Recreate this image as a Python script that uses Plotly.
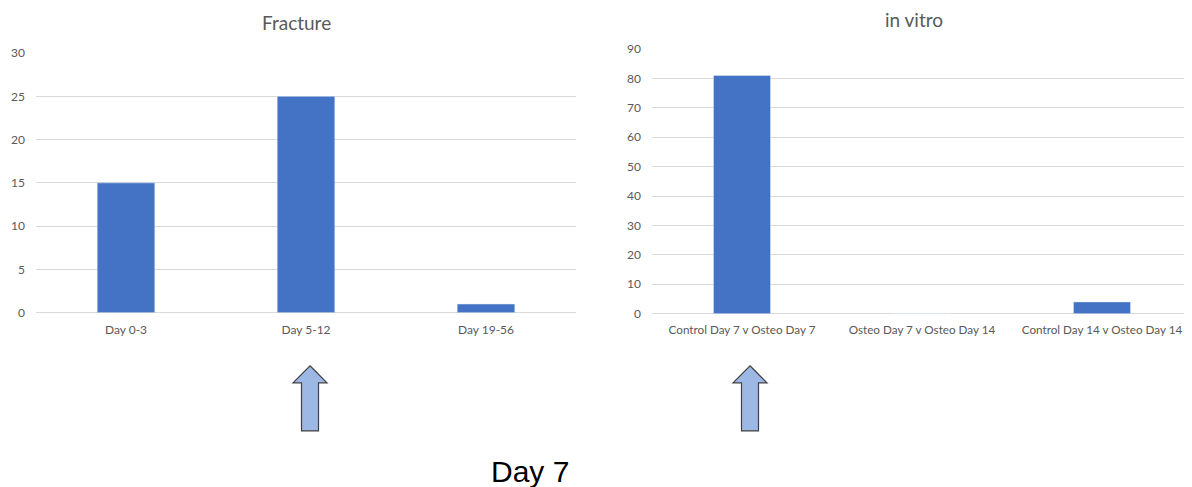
import plotly.graph_objects as go

# Data
fracture_categories = ["Day 0-3", "Day 5-12", "Day 19-56"]
fracture_values = [15, 25, 1]
vitro_categories = ["Control Day 7 v Osteo Day 7", "Osteo Day 7 v Osteo Day 14", "Control Day 14 v Osteo Day 14"]
vitro_values = [81, 0, 4]
fracture_ticks = [0, 5, 10, 15, 20, 25, 30]
vitro_ticks = [0, 10, 20, 30, 40, 50, 60, 70, 80, 90]

# Mapping from target picture pixels to figure pixels (page offset / scaling)
OFF_X = 8
OFF_Y, SCALE_Y = 16, 0.967
W, H = 1184, 487
BAR = "#4472C4"
GRID = "#D9D9D9"
TXT = "#595959"
FONT = "Lato"


def px(x):
    return (x - OFF_X) / W


def py(y):
    return 1 - ((y - OFF_Y) / SCALE_Y) / H


fig = go.Figure()
fig.add_trace(go.Bar(x=fracture_categories, y=fracture_values, marker_color=BAR,
                     width=0.32, xaxis="x", yaxis="y", showlegend=False))
fig.add_trace(go.Bar(x=vitro_categories, y=vitro_values, marker_color=BAR,
                     width=0.317, xaxis="x2", yaxis="y2", showlegend=False))

tickfont = dict(family=FONT, size=12, color=TXT)
fig.update_layout(
    width=W, height=H,
    margin=dict(l=0, r=0, t=0, b=0),
    paper_bgcolor="white", plot_bgcolor="white",
    xaxis=dict(domain=[px(36), px(576)], anchor="y", showgrid=False, ticks="", tickangle=0,
               showline=False, zeroline=False, tickfont=tickfont, ticklabelstandoff=8),
    yaxis=dict(domain=[py(312), py(53)], anchor="x", range=[0, 30], tickvals=fracture_ticks,
               showgrid=True, gridcolor=GRID, gridwidth=1, zeroline=True, zerolinecolor=GRID,
               zerolinewidth=1, showline=False, ticks="", ticklabelstandoff=10, tickfont=tickfont),
    xaxis2=dict(domain=[px(652), 1.0], anchor="y2", range=[-0.5, 2.5], showgrid=False,
                ticks="", tickangle=0,
                showline=False, zeroline=False,
                tickfont=dict(family=FONT, size=11.7, color=TXT), ticklabelstandoff=8),
    yaxis2=dict(domain=[py(313), py(49)], anchor="x2", range=[0, 90], tickvals=vitro_ticks,
                showgrid=True, gridcolor=GRID, gridwidth=1, zeroline=True, zerolinecolor=GRID,
                zerolinewidth=1, showline=False, ticks="", ticklabelstandoff=10, tickfont=tickfont),
)

annotations = [
    dict(text="Fracture", x=px(296), y=py(22.5), xref="paper", yref="paper",
         xanchor="center", yanchor="middle", showarrow=False,
         font=dict(family=FONT, size=19, color=TXT)),
    dict(text="in vitro", x=px(914), y=py(19.5), xref="paper", yref="paper",
         xanchor="center", yanchor="middle", showarrow=False,
         font=dict(family=FONT, size=19, color=TXT)),
    dict(text="Day 7", x=px(530), y=py(470), xref="paper", yref="paper",
         xanchor="center", yanchor="middle", showarrow=False,
         font=dict(family="Liberation Sans", size=30, color="#000000")),
]
fig.update_layout(annotations=annotations)


def block_arrow(cx):
    pts = [(cx, 365), (cx + 17, 382), (cx + 8.5, 382), (cx + 8.5, 430),
           (cx - 8.5, 430), (cx - 8.5, 382), (cx - 17, 382)]
    path = "M " + " L ".join(f"{px(x):.5f},{py(y):.5f}" for x, y in pts) + " Z"
    return dict(type="path", path=path, xref="paper", yref="paper",
                fillcolor="#9DB8E5", line=dict(color="#404040", width=1.2))


fig.update_layout(shapes=[block_arrow(310), block_arrow(750)])

fig.write_html("out.html")
